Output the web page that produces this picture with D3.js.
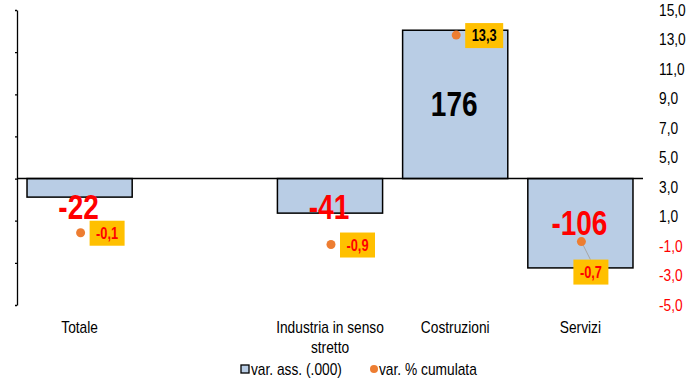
<!DOCTYPE html>
<html>
<head>
<meta charset="utf-8">
<script src="https://cdn.jsdelivr.net/npm/d3@7"></script>
<style>
  body { margin: 0; background: #fff; }
  svg { display: block; font-family: "Liberation Sans", Arial, sans-serif; }
</style>
</head>
<body>
<svg id="chart"></svg>
<script>
const width = 700
const height = 388

// dati
const categories = ['Totale', '', 'Industria in senso stretto', 'Costruzioni', 'Servizi']
const catLines = [['Totale'], [], ['Industria in senso', 'stretto'], ['Costruzioni'], ['Servizi']]
const varAss = [-22, null, -41, 176, -106]      // var. ass. (.000)
const varPerc = [-0.1, null, -0.9, 13.3, -0.7]  // var. % cumulata
const rightTicks = [15, 13, 11, 9, 7, 5, 3, 1, -1, -3, -5]

const plot = {left: 17, right: 643, top: 10, bottom: 305}
// il font originale e' condensato: comprimo in orizzontale
const SX_REG = 0.86
const SX_BOLD = 0.8

const it = d3.formatLocale({decimal: ',', thousands: '.', grouping: [3], currency: ['', '€'], minus: '-'})
const fmt1 = it.format('.1f')

function place(sel, fx, fy, sx) {
  sel.attr('transform', (d, i) => `translate(${fx(d, i)},${fy(d, i)}) scale(${sx},1)`)
}

const svg = d3.select('#chart').attr('width', width).attr('height', height)

const rows = categories.map((c, i) => ({key: 'c' + i, cat: c, lines: catLines[i], ass: varAss[i], perc: varPerc[i]}))

const x = d3.scaleBand()
  .domain(rows.map(d => d.key))
  .range([plot.left, plot.right])
  .paddingInner(0.16)
  .paddingOuter(0.08)

const yL = d3.scaleLinear().domain([-150, 200]).range([plot.bottom, plot.top])
const yR = d3.scaleLinear().domain([-5, 15]).range([plot.bottom, plot.top])

// asse sinistro (solo linea e tacche)
const leftAxis = d3.axisLeft(yL).tickValues(d3.range(-150, 201, 50)).tickSize(2).tickSizeOuter(0).tickFormat('')
const gl = svg.append('g').attr('transform', `translate(${plot.left},0)`).call(leftAxis)
gl.selectAll('path, line').attr('stroke', '#000').attr('stroke-width', 1.3)

// asse destro (solo etichette)
svg.append('g').selectAll('text')
  .data(rightTicks)
  .join('text')
  .call(place, () => 659, d => yR(d), SX_REG)
  .attr('dy', '0.35em')
  .attr('font-size', 16)
  .attr('fill', d => d < 0 ? '#ff0000' : '#000')
  .text(d => fmt1(d))

// barre
const bars = rows.filter(d => d.ass != null)
svg.append('g').selectAll('rect')
  .data(bars)
  .join('rect')
  .attr('x', d => x(d.key))
  .attr('width', x.bandwidth())
  .attr('y', d => Math.min(yL(d.ass), yL(0)))
  .attr('height', d => Math.abs(yL(d.ass) - yL(0)))
  .attr('fill', '#b9cde5')
  .attr('stroke', '#000')
  .attr('stroke-width', 1.5)

// linea dello zero
svg.append('line')
  .attr('x1', plot.left).attr('x2', plot.right)
  .attr('y1', yL(0)).attr('y2', yL(0))
  .attr('stroke', '#000').attr('stroke-width', 1.5)

// etichette barre
svg.append('g').selectAll('text')
  .data(bars)
  .join('text')
  .call(place, d => x(d.key) + x.bandwidth() / 2 - 1, d => {
    const mid = (yL(d.ass) + yL(0)) / 2
    return d.ass < 0 ? Math.max(mid + 12, yL(0) + 40) : mid + 12
  }, SX_BOLD)
  .attr('text-anchor', 'middle')
  .attr('font-size', 35)
  .attr('font-weight', 'bold')
  .attr('fill', d => d.ass < 0 ? '#ff0000' : '#000')
  .text(d => it.format('d')(d.ass))

// punti var. %
const pts = rows.filter(d => d.perc != null)
const cx = d => x(d.key) + x.bandwidth() / 2 + 1

// etichetta Servizi spostata a mano (come nell'originale)
const nudge = {c4: [-8, 18]}

// linea guida
svg.append('g').selectAll('line')
  .data(pts.filter(d => nudge[d.key]))
  .join('line')
  .attr('x1', d => cx(d)).attr('y1', d => yR(d.perc))
  .attr('x2', d => cx(d) + nudge[d.key][0] + 17).attr('y2', d => yR(d.perc) + nudge[d.key][1])
  .attr('stroke', '#a6a6a6').attr('stroke-width', 1)

const lab = svg.append('g').selectAll('g')
  .data(pts)
  .join('g')
  .attr('transform', d => {
    const n = nudge[d.key]
    const bx = n ? cx(d) + n[0] : cx(d) + 9
    const by = n ? yR(d.perc) + n[1] : yR(d.perc) - 12
    return `translate(${bx},${by})`
  })

lab.append('rect')
  .attr('width', d => d.perc < 0 ? 35 : 38).attr('height', 25)
  .attr('fill', '#ffc000')
lab.append('text')
  .call(place, d => d.perc < 0 ? 17.5 : 19, () => 18, SX_BOLD)
  .attr('text-anchor', 'middle')
  .attr('font-size', 16)
  .attr('font-weight', 'bold')
  .attr('fill', d => d.perc < 0 ? '#ff0000' : '#000')
  .text(d => fmt1(d.perc))

svg.append('g').selectAll('circle')
  .data(pts)
  .join('circle')
  .attr('cx', cx)
  .attr('cy', d => yR(d.perc))
  .attr('r', 4.5)
  .attr('fill', '#ed7d31')

// etichette categorie
const cg = svg.append('g').selectAll('text')
  .data(rows)
  .join('text')
  .call(place, d => x(d.key) + x.bandwidth() / 2, () => 333, SX_REG)
  .attr('text-anchor', 'middle')
  .attr('font-size', 16)
cg.selectAll('tspan')
  .data(d => d.lines)
  .join('tspan')
  .attr('x', 0)
  .attr('dy', (d, i) => i ? 20 : 0)
  .text(d => d)

// legenda
const leg = svg.append('g').attr('transform', 'translate(241,370)')
leg.append('rect').attr('x', 0).attr('y', -5).attr('width', 8).attr('height', 8)
  .attr('fill', '#b9cde5').attr('stroke', '#000').attr('stroke-width', 1.3)
leg.append('text').call(place, () => 10, () => 5, SX_REG).attr('font-size', 16).text('var. ass. (.000)')
leg.append('circle').attr('cx', 133).attr('cy', -1).attr('r', 4).attr('fill', '#ed7d31')
leg.append('text').call(place, () => 138, () => 5, SX_REG).attr('font-size', 16).text('var. % cumulata')
</script>
</body>
</html>
